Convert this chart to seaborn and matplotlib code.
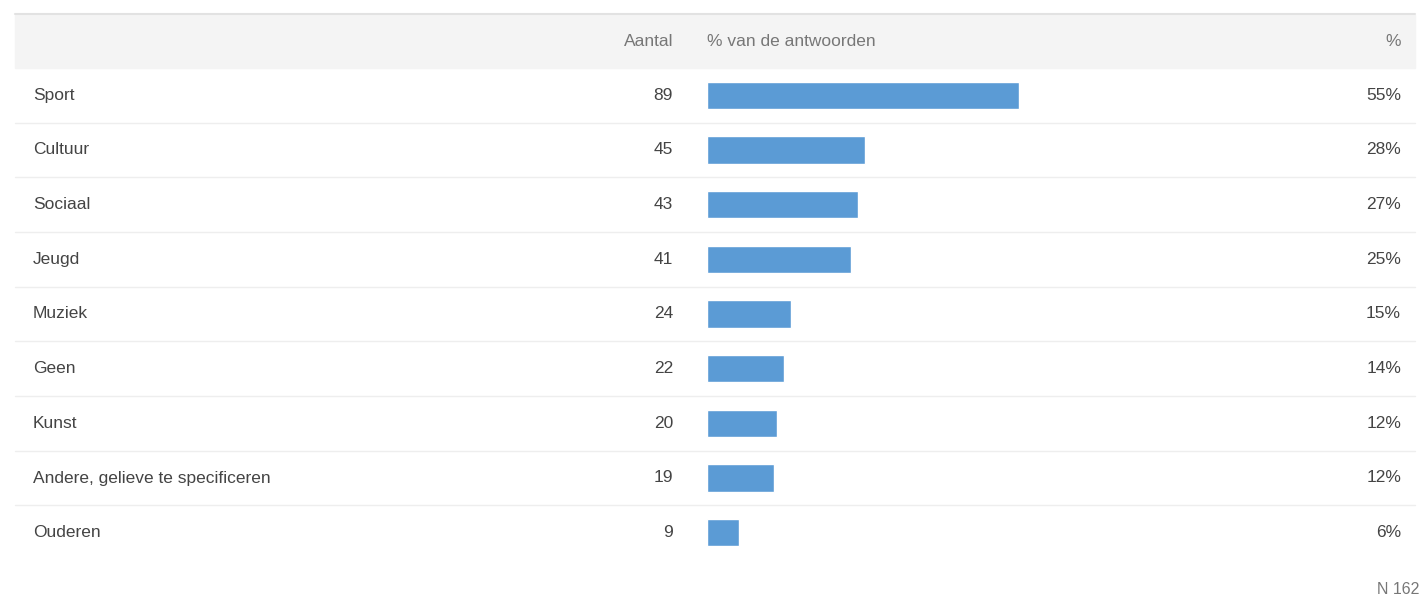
import matplotlib
matplotlib.use("Agg")
import matplotlib.pyplot as plt
import matplotlib.transforms as mtransforms
import seaborn as sns
import pandas as pd

# data
categories = ["Sport", "Cultuur", "Sociaal", "Jeugd", "Muziek", "Geen", "Kunst",
              "Andere, gelieve te specificeren", "Ouderen"]
counts = [89, 45, 43, 41, 24, 22, 20, 19, 9]
total_n = 162
pct_labels = ["55%", "28%", "27%", "25%", "15%", "14%", "12%", "12%", "6%"]

df = pd.DataFrame({"categorie": categories, "aantal": counts})
df["pct"] = df["aantal"] / total_n * 100

sns.set_theme(style="white")
plt.rcParams["font.family"] = ["Liberation Sans", "DejaVu Sans"]

W, H = 1422, 601
fig = plt.figure(figsize=(W / 100, H / 100), dpi=100)


def fx(px):
    return px / W


def fy(py):
    return 1 - py / H


# header band and top shadow
fig.patches.append(plt.Rectangle((fx(15), fy(68)), fx(1400), 53 / H, transform=fig.transFigure,
                                 color="#f4f4f4", zorder=0))
fig.add_artist(plt.Line2D([fx(15), fx(1415)], [fy(14), fy(14)], transform=fig.transFigure,
                          color="#e2e2e2", lw=1.5))

# bar axes: 0-100% spans 707..1274 px, rows span 68..560 px
top, bottom = 68, 560
ax = fig.add_axes([fx(707), fy(bottom), fx(567), (bottom - top) / H])
sns.barplot(data=df, x="pct", y="categorie", color="#5b9bd5", saturation=1,
            width=0.5, ax=ax, orient="h")
ax.set_xlim(0, 100)
ax.set_ylim(len(categories) - 0.5, -0.5)
ax.axis("off")

trans = mtransforms.blended_transform_factory(fig.transFigure, ax.transData)
txt = "#444444"
fs = 12.5
for i, (cat, n, p) in enumerate(zip(categories, counts, pct_labels)):
    fig.text(fx(33), i, cat, transform=trans, ha="left", va="center", fontsize=fs, color=txt)
    fig.text(fx(673), i, str(n), transform=trans, ha="right", va="center", fontsize=fs, color=txt)
    fig.text(fx(1401), i, p, transform=trans, ha="right", va="center", fontsize=fs, color=txt)
    if i < len(categories) - 1:
        fig.add_artist(plt.Line2D([fx(15), fx(1415)], [i + 0.5, i + 0.5], transform=trans,
                                  color="#eeeeee", lw=1))

# header texts
hdr = "#777777"
fig.text(fx(673), fy(41), "Aantal", ha="right", va="center", fontsize=fs, color=hdr)
fig.text(fx(707), fy(41), "% van de antwoorden", ha="left", va="center", fontsize=fs, color=hdr)
fig.text(fx(1401), fy(41), "%", ha="right", va="center", fontsize=fs, color=hdr)

fig.text(fx(1419), fy(589), f"N {total_n}", ha="right", va="center", fontsize=11.5, color=hdr)

fig.savefig("out.png", dpi=100, facecolor="white")
